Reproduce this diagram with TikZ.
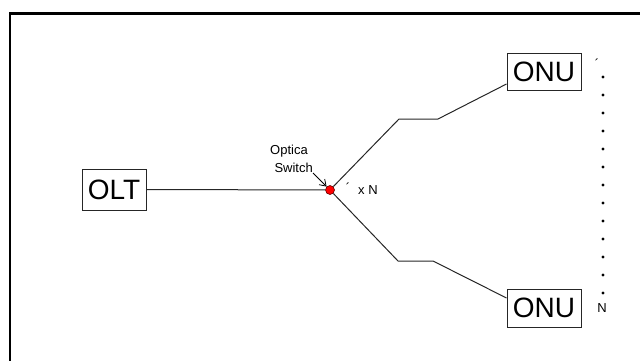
\documentclass[tikz,border=0pt]{standalone}
\usepackage{fontspec}
\setmainfont{Liberation Sans}
\usetikzlibrary{arrows.meta}
\begin{document}
\begin{tikzpicture}[x=1pt,y=-1pt,
  unit/.style={draw=black!85,line width=1pt,inner sep=0pt,font=\fontsize{28}{28}\selectfont},
  small/.style={inner sep=0pt,font=\fontsize{13}{13}\selectfont},
  fibre/.style={black!85,line width=1pt}]
\useasboundingbox (0,0) rectangle (640,361);
\clip (0,0) rectangle (640,361);
\draw[line width=2.5pt] (10,13.5) rectangle (660,380);
\node[unit,minimum width=64pt,minimum height=41pt] (olt) at (114,189.5) {OLT};
\node[unit,minimum width=74pt,minimum height=36pt] (onu1) at (544,72) {ONU};
\node[unit,minimum width=74pt,minimum height=38pt] (onu2) at (544,308) {ONU};
\node[circle,fill=red,draw=red!40!black,line width=0.6pt,inner sep=0pt,minimum size=9pt] (sw) at (330,190) {};
\node[small,anchor=east] (lab1) at (308,151) {Optica};
\node[small,anchor=east] (lab2) at (313,168) {Switch};
\node[small] (tick) at (348,188) {´};
\node[small,anchor=west] (xn) at (358,190.5) {x N};
\node[small] (one) at (597,64) {´};
\node[small] (n) at (602,308) {N};
\coordinate (a1) at (399,119);
\coordinate (a2) at (438,119);
\coordinate (b1) at (398,261);
\coordinate (b2) at (433,261);
\draw[fibre] (olt.east) -- (sw);
\draw[fibre] (sw) -- (a1) -- (a2) -- ([yshift=-12pt]onu1.west);
\draw[fibre] (sw) -- (b1) -- (b2) -- ([yshift=10pt]onu2.west);
\coordinate (tail) at (313,173);
\draw[line width=0.8pt,-{Straight Barb[length=6pt,width=8pt]}] (tail) -- (sw.north west);
\foreach \y in {77,95,...,293}
  \fill (603,\y) circle (1.6pt);
\end{tikzpicture}
\end{document}
